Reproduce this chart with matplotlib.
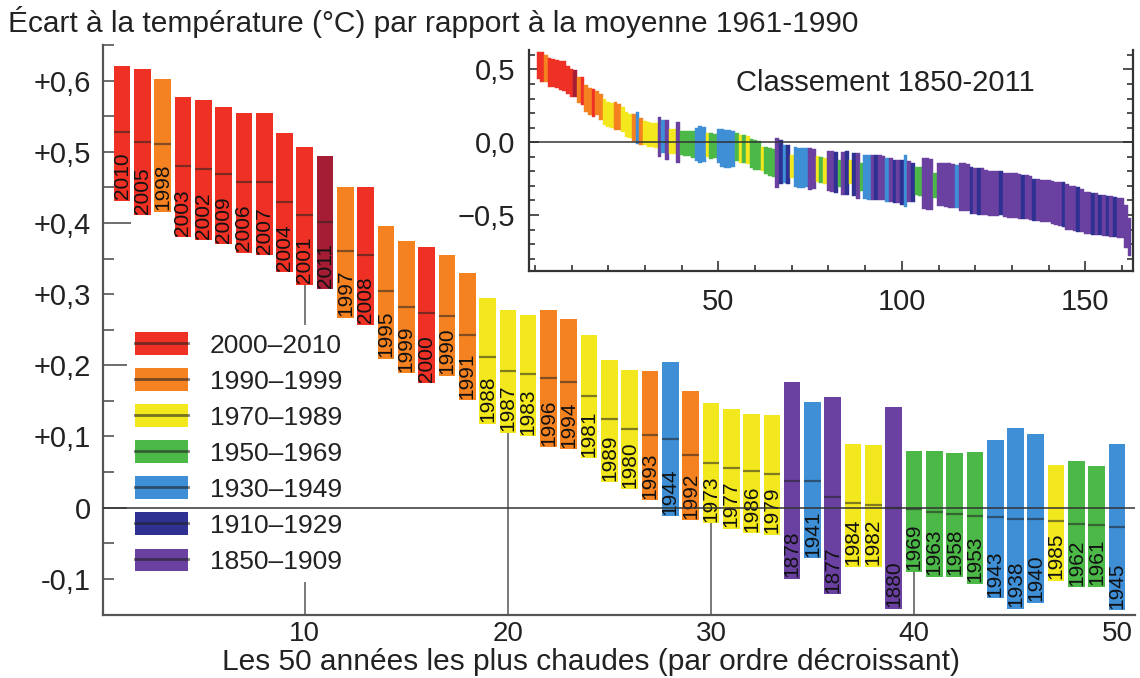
import matplotlib
matplotlib.use("Agg")
import matplotlib.pyplot as plt
import numpy as np
from matplotlib.lines import Line2D
from matplotlib.patches import Patch

plt.rcParams["font.family"] = ["Liberation Sans", "DejaVu Sans"]

# --- the 50 warmest years (rank order) ---
years = [2010, 2005, 1998, 2003, 2002, 2009, 2006, 2007, 2004, 2001,
         2011, 1997, 2008, 1995, 1999, 2000, 1990, 1991, 1988, 1987,
         1983, 1996, 1994, 1981, 1989, 1980, 1993, 1944, 1992, 1973,
         1977, 1986, 1979, 1878, 1941, 1877, 1984, 1982, 1880, 1969,
         1963, 1958, 1953, 1943, 1938, 1940, 1985, 1962, 1961, 1945]
tops = [0.621, 0.617, 0.602, 0.577, 0.573, 0.563, 0.555, 0.555, 0.526, 0.506,
        0.494, 0.451, 0.451, 0.395, 0.375, 0.366, 0.355, 0.330, 0.295, 0.277,
        0.271, 0.277, 0.265, 0.243, 0.208, 0.194, 0.192, 0.204, 0.164, 0.147,
        0.138, 0.132, 0.130, 0.176, 0.149, 0.155, 0.090, 0.088, 0.141, 0.080,
        0.080, 0.076, 0.078, 0.095, 0.112, 0.103, 0.060, 0.065, 0.058, 0.090]
mids = [0.528, 0.514, 0.511, 0.480, 0.476, 0.469, 0.458, 0.457, 0.430, 0.411,
        0.401, 0.360, 0.355, 0.304, 0.282, 0.273, 0.269, 0.243, 0.211, 0.192,
        0.188, 0.182, 0.176, 0.157, 0.125, 0.111, 0.102, 0.097, 0.074, 0.062,
        0.055, 0.051, 0.047, 0.037, 0.037, 0.015, 0.006, 0.003, 0.000, -0.002,
        -0.006, -0.009, -0.012, -0.013, -0.016, -0.016, -0.019, -0.023, -0.024, -0.027]
bottoms = [0.431, 0.411, 0.416, 0.380, 0.376, 0.370, 0.358, 0.355, 0.331, 0.313,
           0.307, 0.267, 0.257, 0.209, 0.189, 0.175, 0.185, 0.151, 0.118, 0.105,
           0.100, 0.085, 0.082, 0.069, 0.036, 0.026, 0.010, -0.012, -0.018, -0.022,
           -0.030, -0.036, -0.038, -0.100, -0.071, -0.122, -0.083, -0.083, -0.142, -0.090,
           -0.097, -0.097, -0.107, -0.127, -0.142, -0.134, -0.103, -0.112, -0.111, -0.144]

# --- inset: ranks 51-162 of the 1850-2011 ranking ---
rest_periods = ("BBBBGYGYGGGYGGGPDBDYBBBBPPYGYPPDGPDYDPG"
                "BBPDPPBPDPDBPDGGPPPG" "PPPPPB" "PPPD" "PD" "PPPPPD" "PPPPPD"
                "PPD" "PPPPPPPD" "PPPD" "PPPD" "PDPDPD" "PPPP")
rest_tops = [0.090, 0.085, 0.084, 0.080, 0.060, 0.050, 0.050, 0.040, 0.020, 0.016,
             0.010, -0.030, -0.035, -0.040, -0.045, 0.030, 0.016, -0.020, -0.020, -0.085,
             -0.035, -0.037, -0.040, -0.040, -0.040, -0.045, -0.095, -0.100, -0.110, -0.060,
             -0.060, -0.065, -0.120, -0.064, -0.060, -0.120, -0.075, -0.075, -0.144, -0.085,
             -0.087, -0.088, -0.090, -0.090, -0.092, -0.110, -0.110, -0.120, -0.120, -0.120,
             -0.087, -0.130, -0.140, -0.167, -0.170, -0.110, -0.110, -0.115, -0.210, -0.140,
             -0.140, -0.145, -0.140, -0.150, -0.160, -0.145, -0.145, -0.150, -0.170, -0.175,
             -0.178, -0.180, -0.190, -0.200, -0.200, -0.200, -0.200, -0.210, -0.210, -0.212,
             -0.215, -0.220, -0.224, -0.225, -0.230, -0.250, -0.255, -0.258, -0.260, -0.260,
             -0.265, -0.270, -0.270, -0.275, -0.290, -0.300, -0.304, -0.310, -0.320, -0.340,
             -0.345, -0.349, -0.350, -0.360, -0.365, -0.370, -0.372, -0.375, -0.380, -0.385,
             -0.430, -0.520]
rest_bottoms = [-0.170, -0.175, -0.174, -0.170, -0.130, -0.140, -0.140, -0.150, -0.180, -0.190,
                -0.190, -0.200, -0.220, -0.235, -0.240, -0.315, -0.290, -0.280, -0.290, -0.245,
                -0.310, -0.315, -0.315, -0.310, -0.326, -0.320, -0.270, -0.280, -0.290, -0.335,
                -0.340, -0.350, -0.310, -0.360, -0.360, -0.290, -0.370, -0.390, -0.338, -0.390,
                -0.395, -0.395, -0.400, -0.400, -0.400, -0.410, -0.410, -0.418, -0.420, -0.430,
                -0.447, -0.410, -0.410, -0.360, -0.370, -0.460, -0.463, -0.463, -0.380, -0.440,
                -0.440, -0.445, -0.450, -0.450, -0.450, -0.470, -0.475, -0.475, -0.490, -0.495,
                -0.500, -0.500, -0.500, -0.505, -0.510, -0.510, -0.500, -0.515, -0.520, -0.520,
                -0.520, -0.525, -0.530, -0.530, -0.535, -0.540, -0.540, -0.545, -0.545, -0.550,
                -0.565, -0.570, -0.578, -0.580, -0.600, -0.605, -0.610, -0.615, -0.620, -0.630,
                -0.632, -0.635, -0.640, -0.640, -0.645, -0.646, -0.650, -0.650, -0.655, -0.660,
                -0.726, -0.783]

periods = ["2000–2010", "1990–1999", "1970–1989", "1950–1969", "1930–1949", "1910–1929", "1850–1909"]
period_colors = ["#ee3124", "#f58220", "#f2e81d", "#4cb848", "#3e8fd5", "#2e3192", "#6a40a0"]
color_2011 = "#a51d35"
code_colors = {"Y": period_colors[2], "G": period_colors[3], "B": period_colors[4],
               "D": period_colors[5], "P": period_colors[6]}

ytick_vals = [-0.1, 0.0, 0.1, 0.2, 0.3, 0.4, 0.5, 0.6]
ytick_labels = ["-0,1", "0", "+0,1", "+0,2", "+0,3", "+0,4", "+0,5", "+0,6"]
xtick_vals = [10, 20, 30, 40, 50]
leader_ranks = [10, 20, 30, 40]


def year_color(y):
    if y == 2011:
        return color_2011
    if y >= 2000:
        return period_colors[0]
    if y >= 1990:
        return period_colors[1]
    if y >= 1970:
        return period_colors[2]
    if y >= 1950:
        return period_colors[3]
    if y >= 1930:
        return period_colors[4]
    if y >= 1910:
        return period_colors[5]
    return period_colors[6]


tops = np.array(tops)
bottoms = np.array(bottoms)
mids = np.array(mids)
ranks = np.arange(1, len(years) + 1)
colors = [year_color(y) for y in years]

fig = plt.figure(figsize=(11.4, 6.78), dpi=100)
ax = fig.add_axes([0.0904, 0.0929, 0.9053, 0.8407])

ax.bar(ranks, tops - bottoms, bottom=bottoms, width=0.82, color=colors, zorder=2)
ax.hlines(mids, ranks - 0.41, ranks + 0.41, color="#222222", alpha=0.55, lw=1.6, zorder=3)
for r, y, b in zip(ranks, years, bottoms):
    ax.text(r, b + 0.002, str(y), rotation=90, ha="center", va="bottom",
            fontsize=15, color="#111111", zorder=4)

# leader lines from the axis to the bars at ranks 10, 20, 30, 40
lead_idx = [r - 1 for r in leader_ranks]
ax.vlines(leader_ranks, -0.2, bottoms[lead_idx], color="#555555", lw=1.1, zorder=1)
ax.axhline(0, color="#333333", lw=1.1, zorder=6)

ax.set_xlim(0.065, 50.89)
ax.set_ylim(-0.151, 0.6385)
for s in ["top", "right"]:
    ax.spines[s].set_visible(False)
for s in ["left", "bottom"]:
    ax.spines[s].set_color("#555555")
    ax.spines[s].set_linewidth(1.6)

ax.set_yticks(ytick_vals)
ax.set_yticklabels(ytick_labels)
ax.set_yticks(np.array(ytick_vals) + 0.05, minor=True)
ax.tick_params(axis="y", which="both", direction="in", length=8, width=1.2,
               color="#555555", labelsize=21, pad=9, labelcolor="#222222")
for t, v in zip(ax.yaxis.get_major_ticks(), ytick_vals):
    if round(v, 2) in (0.0, 0.2, 0.4):
        t.tick1line.set_markersize(20)
ax.set_xticks(xtick_vals)
ax.tick_params(axis="x", length=0, labelsize=20, pad=4, labelcolor="#222222")
ax.set_xlabel("Les 50 années les plus chaudes (par ordre décroissant)", fontsize=21.5, color="#222222")
ax.xaxis.set_label_coords(0.473, -0.058)

handles = [(Patch(facecolor=c, edgecolor="none"), Line2D([], [], color="#222222", alpha=0.6, lw=2))
           for c in period_colors]
leg = ax.legend(handles, periods, loc="upper left", bbox_to_anchor=(0.0233, 0.5096),
                fontsize=19, handlelength=2.0, handleheight=0.95, labelspacing=0.40,
                handletextpad=0.83, borderpad=0.3, borderaxespad=0, frameon=True,
                fancybox=False, framealpha=1)
leg.get_frame().set_edgecolor("none")
leg.set_zorder(5)
for txt in leg.get_texts():
    txt.set_color("#222222")

fig.text(8 / 1140, 1 - 22 / 678, "Écart à la température (°C) par rapport à la moyenne 1961-1990",
         ha="left", va="center", fontsize=21.5, color="#222222")

# --- inset ---
ins_ranks = np.arange(1, len(years) + len(rest_tops) + 1)
ins_tops = np.concatenate([tops, rest_tops])
ins_bottoms = np.concatenate([bottoms, rest_bottoms])
ins_colors = colors + [code_colors[c] for c in rest_periods]

axi = fig.add_axes([0.464, 0.600, 0.530, 0.326])
axi.bar(ins_ranks, ins_tops - ins_bottoms, bottom=ins_bottoms, width=1.0,
        color=ins_colors, edgecolor=ins_colors, lw=0.3, zorder=2)
axi.axhline(0, color="#333333", lw=1.1, zorder=3)
axi.set_xlim(-1.6, 163)
axi.set_ylim(-0.886, 0.632)
axi.spines["top"].set_visible(False)
for s in ["left", "right", "bottom"]:
    axi.spines[s].set_color("#333333")
    axi.spines[s].set_linewidth(1.6)
axi.set_yticks([-0.5, 0.0, 0.5])
axi.set_yticklabels(["−0,5", "0,0", "0,5"])
axi.set_yticks(np.arange(-0.8, 0.61, 0.1), minor=True)
axi.set_xticks([50, 100, 150])
axi.set_xticks(np.arange(0, 161, 10), minor=True)
axi.tick_params(which="both", direction="in", color="#333333", width=1.2,
                left=True, right=True, labelsize=21, labelcolor="#222222")
axi.tick_params(which="major", length=7)
axi.tick_params(which="minor", length=4)
axi.tick_params(axis="y", pad=10)
axi.tick_params(axis="x", pad=12)
axi.text(0.589, 0.851, "Classement 1850-2011", transform=axi.transAxes,
         ha="center", va="center", fontsize=21, color="#222222")

fig.savefig("out.png", dpi=100)
